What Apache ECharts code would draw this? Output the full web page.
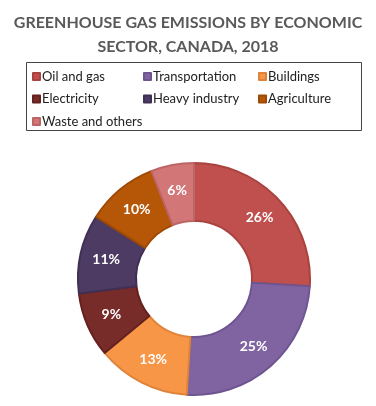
<!DOCTYPE html>
<html>
<head>
<meta charset="utf-8">
<script src="https://cdn.jsdelivr.net/npm/echarts@6/dist/echarts.min.js"></script>
<style>
  html, body { margin: 0; padding: 0; background: #fff; }
  #main { width: 376px; height: 406px; }
</style>
</head>
<body>
<div id="main"></div>
<script>
// data
var sectors = ['Oil and gas', 'Transportation', 'Buildings', 'Electricity', 'Heavy industry', 'Agriculture', 'Waste and others'];
var shares = [26, 25, 13, 9, 11, 10, 6];
var fillColors = ['#C0504D', '#8064A2', '#F79646', '#772C2A', '#4D3B64', '#B65708', '#D27677'];
var edgeColors = ['#A9433F', '#6E5590', '#E0833A', '#64211F', '#3F3054', '#9E4A05', '#BD6465'];

var myChart = echarts.init(document.getElementById('main'));

var seriesData = sectors.map(function (name, i) {
    return {
        value: shares[i],
        name: name,
        itemStyle: { color: fillColors[i], borderColor: edgeColors[i], borderWidth: 2 }
    };
});

// 图例分三列
var legendCols = [
    { left: 27, names: [sectors[0], sectors[3], sectors[6]] },
    { left: 138, names: [sectors[1], sectors[4]] },
    { left: 253, names: [sectors[2], sectors[5]] }
];

var option = {
    title: {
        text: 'GREENHOUSE GAS EMISSIONS BY ECONOMIC\nSECTOR, CANADA, 2018',
        left: 'center',
        top: 6,
        textStyle: {
            fontFamily: 'Lato',
            fontWeight: 'bold',
            fontSize: 16,
            lineHeight: 24,
            color: '#595959'
        }
    },
    color: fillColors,
    legend: legendCols.map(function (col) {
        return {
            orient: 'vertical',
            left: col.left,
            top: 65,
            itemWidth: 7,
            itemHeight: 7,
            itemGap: 9.5,
            icon: 'rect',
            data: col.names,
            selectedMode: false,
            textStyle: { fontFamily: 'Lato', fontSize: 13, color: '#222', padding: [0, 0, 0, -3] }
        };
    }),
    graphic: [{
        type: 'rect',
        shape: { x: 26.5, y: 62.5, width: 335, height: 68 },
        style: { fill: 'none', stroke: '#444', lineWidth: 1 }
    }],
    series: [{
        name: 'Emissions',
        type: 'pie',
        center: [194, 279],
        radius: [58, 116],
        startAngle: 90,
        clockwise: true,
        avoidLabelOverlap: false,
        data: seriesData,
        label: {
            show: true,
            position: 'inside',
            formatter: '{c}%',
            color: '#fff',
            fontFamily: 'Lato',
            fontWeight: 'bold',
            fontSize: 14
        },
        labelLine: { show: false }
    }]
};

myChart.setOption(option);
</script>
</body>
</html>
